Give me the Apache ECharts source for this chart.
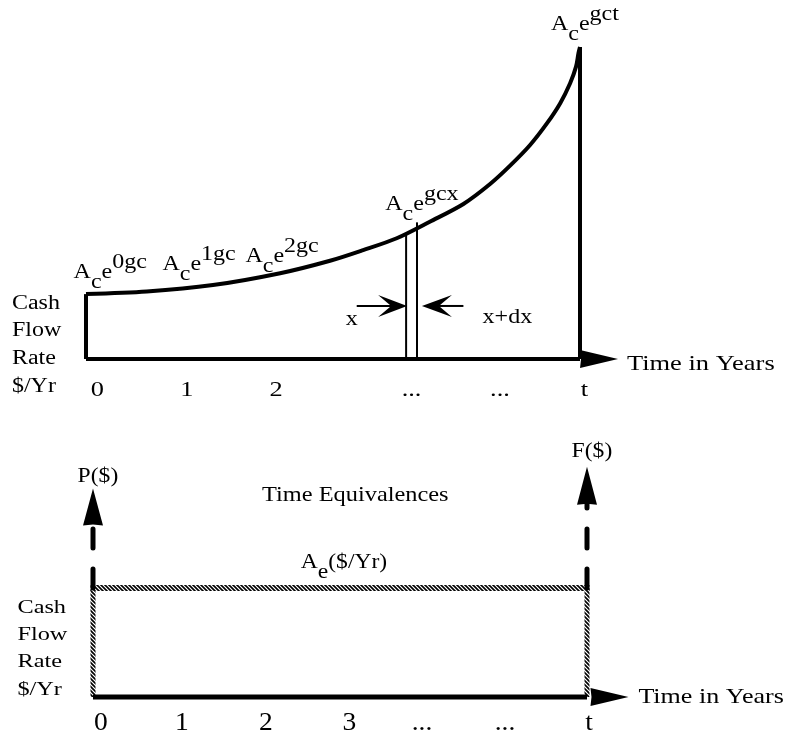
<!DOCTYPE html>
<html><head><meta charset="utf-8">
<script src="https://cdn.jsdelivr.net/npm/echarts@6/dist/echarts.min.js"></script>
<style>html,body{margin:0;padding:0;background:#fff}#c{width:787px;height:734px}</style>
</head><body><div id="c"></div>
<script>
// ---------------- data (t normalised to 10) ----------------
// top panel: continuous geometric-gradient cash flow rate A_c e^{gcx}
const curveX = [0, 1.23, 2.57, 3.93, 4.94, 5.61, 6.29, 6.96, 7.64, 8.18, 8.58, 8.99, 9.33, 9.60, 9.80, 9.92, 9.97, 10];
const curveY = [2.08, 2.16, 2.37, 2.75, 3.15, 3.49, 3.87, 4.40, 4.97, 5.61, 6.19, 6.86, 7.55, 8.20, 8.84, 9.37, 9.81, 10];
const tEnd = 10;
const stripX = [6.48, 6.70];           // x and x+dx
const stripY = [4.04, 4.38];           // rate at x and x+dx
const topTickLabels = ['0', '1', '2', '...', '...', 't'];
const topTickX = [0.23, 2.04, 3.85, 6.59, 8.38, 10.09];
const growthExps = ['0gc', '1gc', '2gc', 'gcx', 'gct'];
const growthX = [0.49, 2.29, 3.97, 6.80, 10.10];
const growthY = [2.75, 3.01, 3.28, 4.94, 10.71];
const dxLabels = ['x', 'x+dx'];
const dxLabelX = [5.38, 8.53];
const dxLabelY = [1.25, 1.31];
const dxArrowY = 1.70;
// bottom panel: time equivalences
const uniformLevel = 4.74;             // A_e ($/Yr)
const presentTip = [0, 9.07];          // P($)
const futureTip = [10, 10.01];         // F($)
const bottomTickLabels = ['0', '1', '2', '3', '...', '...', 't'];
const bottomTickX = [0.16, 1.80, 3.50, 5.19, 6.66, 8.34, 10.04];
const rateAxisLines = ['Cash', 'Flow', 'Rate', '$/Yr'];
const axisTitle = 'Time in Years';

// ---------------- helpers ----------------
const BLACK = '#000';
const FAMILY = '"Liberation Serif", "Times New Roman", serif';

function makeHatch() {
  const c = document.createElement('canvas');
  c.width = 4; c.height = 4;
  const g = c.getContext('2d');
  g.fillStyle = '#fff'; g.fillRect(0, 0, 4, 4);
  g.strokeStyle = '#000'; g.lineWidth = 1.6;
  g.beginPath();
  g.moveTo(-1, -1); g.lineTo(5, 5);
  g.moveTo(-1, 3); g.lineTo(1, 5);
  g.moveTo(3, -1); g.lineTo(5, 1);
  g.stroke();
  return c;
}
const hatch = makeHatch();

function seg(gi, pts, width, extraStyle, extra) {
  return Object.assign({
    type: 'line', xAxisIndex: gi, yAxisIndex: gi, data: pts, symbol: 'none',
    clip: false, silent: true, animation: false,
    lineStyle: Object.assign({ color: BLACK, width: width }, extraStyle || {})
  }, extra || {});
}

function arrowSeries(gi, tips, specs) {
  return {
    type: 'custom', xAxisIndex: gi, yAxisIndex: gi, coordinateSystem: 'cartesian2d',
    clip: false, silent: true, animation: false, data: tips,
    renderItem: function (params, api) {
      const s = specs[params.dataIndex];
      const p = api.coord([api.value(0), api.value(1)]);
      const L = s.len, W = s.w / 2, N = s.notch || 0;
      const ang = { right: 0, left: Math.PI, up: -Math.PI / 2 }[s.dir];
      const c = Math.cos(ang), sn = Math.sin(ang);
      const pts = [[0, 0], [-L, -W], [-L + N, 0], [-L, W]].map(function (q) {
        return [p[0] + q[0] * c - q[1] * sn, p[1] + q[0] * sn + q[1] * c];
      });
      return { type: 'polygon', shape: { points: pts }, style: { fill: BLACK } };
    }
  };
}

function richFor(font) {
  return {
    b: { font: font, fill: BLACK, lineHeight: 40, verticalAlign: 'middle' },
    sub: { font: font, fill: BLACK, lineHeight: 20, verticalAlign: 'bottom' },
    sup: { font: font, fill: BLACK, lineHeight: 20, verticalAlign: 'top' }
  };
}

function textSeries(gi, texts, xs, ys, o) {
  return {
    type: 'custom', xAxisIndex: gi, yAxisIndex: gi, coordinateSystem: 'cartesian2d',
    clip: false, silent: true, animation: false,
    data: xs.map(function (x, i) { return [x, ys[i]]; }),
    renderItem: function (params, api) {
      const p = api.coord([api.value(0), api.value(1)]);
      const font = o.size + 'px ' + FAMILY;
      const txt = texts[params.dataIndex];
      const style = {
        text: txt, font: font, fill: BLACK, x: 0, y: 0,
        align: o.align || 'center', verticalAlign: 'middle'
      };
      if (o.lh) style.lineHeight = o.lh;
      if (txt.indexOf('{') >= 0) style.rich = richFor(font);
      return { type: 'text', x: p[0], y: p[1], scaleX: o.sx || 1.2, style: style };
    }
  };
}
function fill(n, v) { return new Array(n).fill(v); }

// ---------------- option ----------------
const curve = curveX.map(function (x, i) { return [x, curveY[i]]; });
const growthTexts = growthExps.map(function (e) { return '{b|A}{sub|c}{b|e}{sup|' + e + '}'; });

const option = {
  backgroundColor: '#fff',
  animation: false,
  grid: [
    { left: 86, top: 47, width: 494, height: 312 },
    { left: 93, top: 467, width: 494, height: 230 }
  ],
  xAxis: [
    { gridIndex: 0, type: 'value', min: 0, max: 10, show: false },
    { gridIndex: 1, type: 'value', min: 0, max: 10, show: false }
  ],
  yAxis: [
    { gridIndex: 0, type: 'value', min: 0, max: 10, show: false },
    { gridIndex: 1, type: 'value', min: 0, max: 10, show: false }
  ],
  series: [
    // ---- top panel ----
    seg(0, curve, 4, { join: 'round' }, { smooth: 0.3 }),
    seg(0, [[0, 0], [0, curveY[0]]], 4),
    seg(0, [[tEnd, 0], [tEnd, curveY[curveY.length - 1]]], 4),
    seg(0, [[0, 0], [tEnd, 0]], 4),
    seg(0, [[stripX[0], 0], [stripX[0], stripY[0]]], 2),
    seg(0, [[stripX[1], 0], [stripX[1], stripY[1]]], 2),
    seg(0, [[5.48, dxArrowY], [6.25, dxArrowY]], 2),
    seg(0, [[7.64, dxArrowY], [7.05, dxArrowY]], 2),
    arrowSeries(0, [[10.77, 0], [6.50, dxArrowY], [6.80, dxArrowY]], [
      { dir: 'right', len: 38, w: 18, notch: 1 },
      { dir: 'right', len: 29, w: 22, notch: 13 },
      { dir: 'left', len: 30, w: 22, notch: 13 }
    ]),
    textSeries(0, growthTexts, growthX, growthY, { size: 20, sx: 1.2 }),
    textSeries(0, dxLabels, dxLabelX, dxLabelY, { size: 20, sx: 1.2 }),
    textSeries(0, topTickLabels, topTickX, fill(topTickX.length, -0.99), { size: 22, sx: 1.2 }),
    textSeries(0, [axisTitle], [10.95], [-0.16], { size: 21, sx: 1.26, align: 'left' }),
    textSeries(0, [rateAxisLines.join('\n')], [-1.50], [0.45], { size: 20, sx: 1.2, align: 'left', lh: 27.8 }),

    // ---- bottom panel ----
    {
      type: 'custom', xAxisIndex: 1, yAxisIndex: 1, coordinateSystem: 'cartesian2d',
      clip: false, silent: true, animation: false,
      data: [[0, tEnd, uniformLevel]],
      renderItem: function (params, api) {
        const a = api.coord([api.value(0), api.value(2)]);
        const b = api.coord([api.value(1), api.value(2)]);
        const base = api.coord([api.value(0), 0]);
        const pat = { image: hatch, repeat: 'repeat' };
        return {
          type: 'group', children: [
            { type: 'rect', shape: { x: a[0] - 2.5, y: a[1] - 3, width: b[0] - a[0] + 5, height: 6 }, style: { fill: pat } },
            { type: 'rect', shape: { x: a[0] - 2.5, y: a[1], width: 5, height: base[1] - a[1] }, style: { fill: pat } },
            { type: 'rect', shape: { x: b[0] - 2.5, y: b[1], width: 5, height: base[1] - b[1] }, style: { fill: pat } }
          ]
        };
      }
    },
    seg(1, [[0, 0], [tEnd, 0]], 5),
    seg(1, [[presentTip[0], uniformLevel], [presentTip[0], 7.57]], 5, { type: [19, 21], cap: 'round' }),
    seg(1, [[futureTip[0], uniformLevel], [futureTip[0], 8.43]], 5, { type: [19, 21], cap: 'round' }),
    arrowSeries(1, [[10.84, 0], presentTip, futureTip], [
      { dir: 'right', len: 38, w: 18, notch: 1 },
      { dir: 'up', len: 37, w: 20, notch: 1 },
      { dir: 'up', len: 38, w: 20, notch: 1 }
    ]),
    textSeries(1, ['P($)', 'F($)', '{b|A}{sub|e}{b|($/Yr)}'], [0.10, 10.10, 5.08], [9.57, 10.65, 5.83], { size: 20, sx: 1.18 }),
    textSeries(1, ['Time Equivalences'], [5.31], [8.78], { size: 21, sx: 1.16 }),
    textSeries(1, bottomTickLabels, bottomTickX, fill(bottomTickX.length, -1.13), { size: 25, sx: 1.1 }),
    textSeries(1, [axisTitle], [11.04], [-0.04], { size: 21, sx: 1.24, align: 'left' }),
    textSeries(1, [rateAxisLines.join('\n')], [-1.53], [2.08], { size: 18, sx: 1.35, align: 'left', lh: 27.2 })
  ]
};

const chart = echarts.init(document.getElementById('c'), null, { renderer: 'canvas' });
chart.setOption(option);
</script>
</body></html>
